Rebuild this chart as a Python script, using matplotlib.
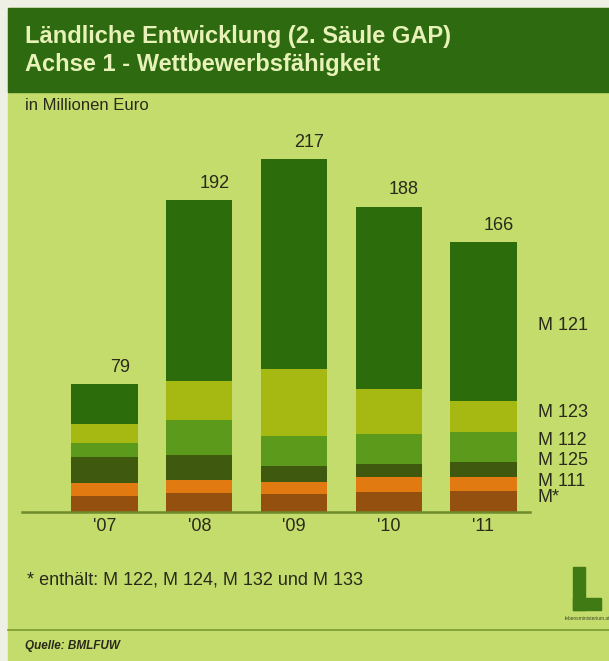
import matplotlib.pyplot as plt
from matplotlib.patches import Rectangle

plt.rcParams['font.family'] = ['Liberation Sans', 'DejaVu Sans']

years = ["'07", "'08", "'09", "'10", "'11"]
totals = [79, 192, 217, 188, 166]

# Mio. Euro per measure, bottom to top
m_star = [9.8, 11.7, 11.0, 12.3, 12.9]
m111 = [8.0, 8.0, 7.4, 9.2, 8.6]
m125 = [16.0, 15.4, 9.8, 8.0, 9.2]
m112 = [8.6, 21.5, 18.5, 18.5, 18.5]
m123 = [11.7, 24.0, 41.2, 27.7, 19.0]
m121 = [24.9, 111.4, 129.3, 112.3, 97.8]

series = [m_star, m111, m125, m112, m123, m121]
series_names = ["M*", "M 111", "M 125", "M 112", "M 123", "M 121"]
series_colors = ['#94500e', '#e27a12', '#3f5a0f', '#5b9a1a', '#a5b912', '#2c6c0a']
label_y = [9, 19, 32, 44, 61, 115]

W, H = 609, 661
bg = '#c4dc6c'
txt = '#2a2a1a'

fig = plt.figure(figsize=(W / 100, H / 100), dpi=100)
fig.patch.set_facecolor('#eef0e6')

# lime panel and green title banner
fig.patches.append(Rectangle((8 / W, 0), 1, 1 - 8 / H, transform=fig.transFigure,
                             color=bg, zorder=0))
fig.patches.append(Rectangle((8 / W, 1 - 92 / H), 1, 84 / H, transform=fig.transFigure,
                             color='#2d6a10', zorder=1))

fig.text(25 / W, 1 - 36 / H, "Ländliche Entwicklung (2. Säule GAP)", fontsize=17,
         fontweight='bold', color='#e8f2b8', va='center')
fig.text(25 / W, 1 - 65 / H, "Achse 1 - Wettbewerbsfähigkeit", fontsize=17,
         fontweight='bold', color='#e8f2b8', va='center')
fig.text(25 / W, 1 - 106 / H, "in Millionen Euro", fontsize=12, color=txt, va='center')

ax = fig.add_axes([22 / W, (H - 512) / H, 508 / W, 372 / H])
ax.set_zorder(5)
ax.set_facecolor('none')

x = list(range(len(years)))
bottom = [0] * len(years)
for vals, col in zip(series, series_colors):
    ax.bar(x, vals, width=0.7, bottom=bottom, color=col, linewidth=0)
    bottom = [b + v for b, v in zip(bottom, vals)]

for xi, t in zip(x, totals):
    ax.annotate(str(t), (xi, t), xytext=(11, 12), textcoords='offset points',
                ha='center', va='center', fontsize=13, color=txt)

for name, ly in zip(series_names, label_y):
    ax.text(4.575, ly, name, fontsize=13, color=txt, va='center', ha='left',
            clip_on=False)

ax.set_xlim(-0.871, 4.491)
ax.set_ylim(0, 229)
ax.set_xticks(x)
ax.set_xticklabels(years, fontsize=13, color=txt)
ax.tick_params(length=0, pad=4)
ax.set_yticks([])
for s in ['top', 'right', 'left']:
    ax.spines[s].set_visible(False)
ax.spines['bottom'].set_color('#6e8c2c')
ax.spines['bottom'].set_linewidth(1.8)

fig.text(27 / W, 1 - 580 / H, "* enthält: M 122, M 124, M 132 und M 133", fontsize=13,
         color=txt, va='center')

# logo
fig.patches.append(Rectangle((573 / W, 1 - 610 / H), 12 / W, 43 / H,
                             transform=fig.transFigure, color='#3f7a14', zorder=2))
fig.patches.append(Rectangle((573 / W, 1 - 610 / H), 28 / W, 12 / H,
                             transform=fig.transFigure, color='#3f7a14', zorder=2))
fig.text(587 / W, 1 - 618 / H, "lebensministerium.at", fontsize=3.5, color='#3a4a2a',
         ha='center', va='center')

fig.add_artist(plt.Line2D([8 / W, 1], [1 - 630 / H, 1 - 630 / H], color='#7a9a30',
                          linewidth=1.2))
fig.text(25 / W, 1 - 646 / H, "Quelle: BMLFUW", fontsize=8.5, style='italic',
         fontweight='bold', color=txt, va='center')

fig.savefig('out.png', dpi=100, facecolor=fig.get_facecolor())
